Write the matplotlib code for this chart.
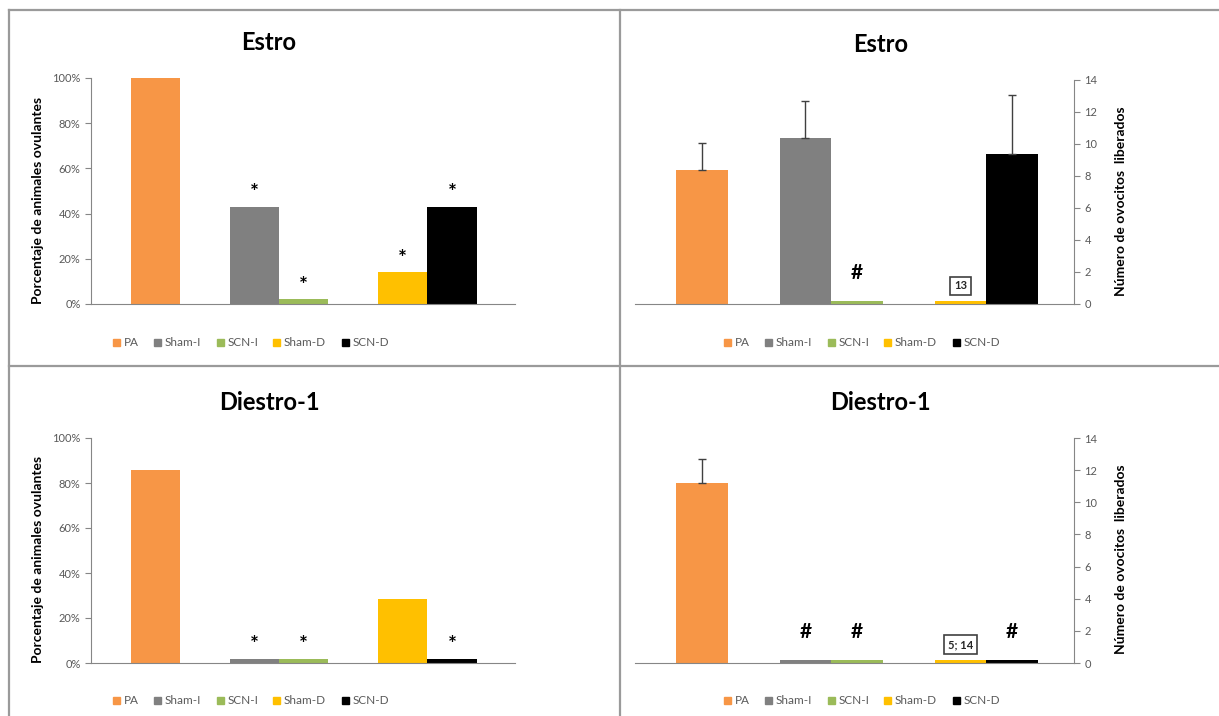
import matplotlib
matplotlib.use("Agg")
import matplotlib.pyplot as plt
from matplotlib.lines import Line2D

plt.rcParams['font.family'] = ['Lato', 'DejaVu Sans']

groups = ["PA", "Sham-I", "SCN-I", "Sham-D", "SCN-D"]
colors = ["#F79646", "#808080", "#9BBB59", "#FFC000", "#000000"]

# left panels: % ovulating animals (zeros drawn as thin bars)
pct_estro = [100, 43, 2, 14, 43]
pct_diestro = [86, 2, 2, 28.6, 2]
star_estro = ["", "*", "*", "*", "*"]
star_diestro = ["", "*", "*", "", "*"]

# right panels: number of oocytes (mean and upper error)
ovo_estro = [8.35, 10.35, 0.18, 0.18, 9.35]
err_estro = [1.7, 2.35, 0, 0, 3.7]
ovo_diestro = [11.2, 0.18, 0.18, 0.18, 0.18]
err_diestro = [1.5, 0, 0, 0, 0]
mark_estro = ["", "", "#", "13", ""]
mark_diestro = ["", "#", "#", "5; 14", "#"]

xpos = [1.3, 3.3, 4.3, 6.3, 7.3]
W, H = 1219, 716
axis_col = "#868686"
text_col = "#595959"

fig = plt.figure(figsize=(W / 100, H / 100), dpi=100)


def px_axes(x0, y0, x1, y1):
    return fig.add_axes([x0 / W, 1 - y1 / H, (x1 - x0) / W, (y1 - y0) / H])


def common(ax, xmax):
    ax.set_xlim(0, xmax)
    ax.set_xticks([])
    for s in ["top", "right", "left"]:
        ax.spines[s].set_visible(False)
    ax.spines["bottom"].set_color(axis_col)
    ax.tick_params(axis="y", colors=axis_col, labelcolor=text_col, labelsize=8, length=4)


def pct_panel(ax, vals, stars, title):
    common(ax, 8.57)
    ax.bar(xpos, vals, width=1.0, color=colors, label=groups)
    ax.set_ylim(0, 100)
    ax.set_yticks(range(0, 101, 20))
    ax.set_yticklabels([f"{v}%" for v in range(0, 101, 20)])
    ax.spines["left"].set_visible(True)
    ax.spines["left"].set_color(axis_col)
    ax.set_ylabel("Porcentaje de animales ovulantes", fontsize=10, fontweight="bold", color="black")
    ax.yaxis.set_label_coords(-0.112, 0.46)
    for x, v, s in zip(xpos, vals, stars):
        if s:
            ax.text(x, v + 6.0, s, ha="center", va="center", fontsize=15, fontweight="bold")
    ax.set_title(title, fontsize=17, fontweight="bold", pad=20, x=0.42)


def ovo_panel(ax, vals, errs, marks, title):
    common(ax, 8.5)
    ax.bar(xpos, vals, width=1.0, color=colors, label=groups)
    for x, v, e in zip(xpos, vals, errs):
        if e > 0:
            ax.errorbar(x, v, yerr=[[0], [e]], fmt="none", ecolor="#404040",
                        elinewidth=1, capsize=3, capthick=1)
    ax.set_ylim(0, 14)
    ax.set_yticks(range(0, 15, 2))
    ax.yaxis.tick_right()
    ax.yaxis.set_label_position("right")
    ax.spines["right"].set_visible(True)
    ax.spines["right"].set_color(axis_col)
    ax.set_ylabel("Número de ovocitos  liberados", fontsize=10, fontweight="bold", color="black")
    ax.yaxis.set_label_coords(1.093, 0.46)
    for x, v, m in zip(xpos, vals, marks):
        if m == "#":
            ax.text(x, v + 1.75, m, ha="center", va="center", fontsize=15, fontweight="bold")
        elif m:
            ax.text(x, v + 0.95, m, ha="center", va="center", fontsize=8, fontweight="bold",
                    color="#262626",
                    bbox=dict(boxstyle="square,pad=0.35", fc="white", ec="#404040", lw=1.2))
    ax.set_title(title, fontsize=17, fontweight="bold", pad=20, x=0.56)


def legend(ax, cx, cy):
    handles = [plt.Rectangle((0, 0), 1, 1, color=c) for c in colors]
    fig.legend(handles, groups, loc="center", bbox_to_anchor=(cx / W, 1 - cy / H),
               ncol=5, frameon=False, fontsize=8.5, handlelength=0.6, handleheight=0.6,
               handletextpad=0.3, columnspacing=1.3, labelcolor=text_col)


ax1 = px_axes(91, 78, 515, 304)
pct_panel(ax1, pct_estro, star_estro, "Estro")
legend(ax1, 251, 343)

ax2 = px_axes(635, 80, 1074, 304)
ovo_panel(ax2, ovo_estro, err_estro, mark_estro, "Estro")
legend(ax2, 862, 343)

ax3 = px_axes(91, 438, 515, 663)
pct_panel(ax3, pct_diestro, star_diestro, "Diestro-1")
legend(ax3, 251, 701)

ax4 = px_axes(635, 438, 1074, 663)
ovo_panel(ax4, ovo_diestro, err_diestro, mark_diestro, "Diestro-1")
legend(ax4, 862, 701)

# panel frame lines
border = dict(color="#9a9a9a", lw=1.6, transform=fig.transFigure)
fig.add_artist(Line2D([9 / W, 1], [1 - 10 / H, 1 - 10 / H], **border))
fig.add_artist(Line2D([9 / W, 9 / W], [0, 1 - 10 / H], **border))
fig.add_artist(Line2D([620 / W, 620 / W], [0, 1 - 10 / H], **border))
fig.add_artist(Line2D([9 / W, 1], [1 - 366 / H, 1 - 366 / H], **border))

fig.savefig("out.png", dpi=100)
